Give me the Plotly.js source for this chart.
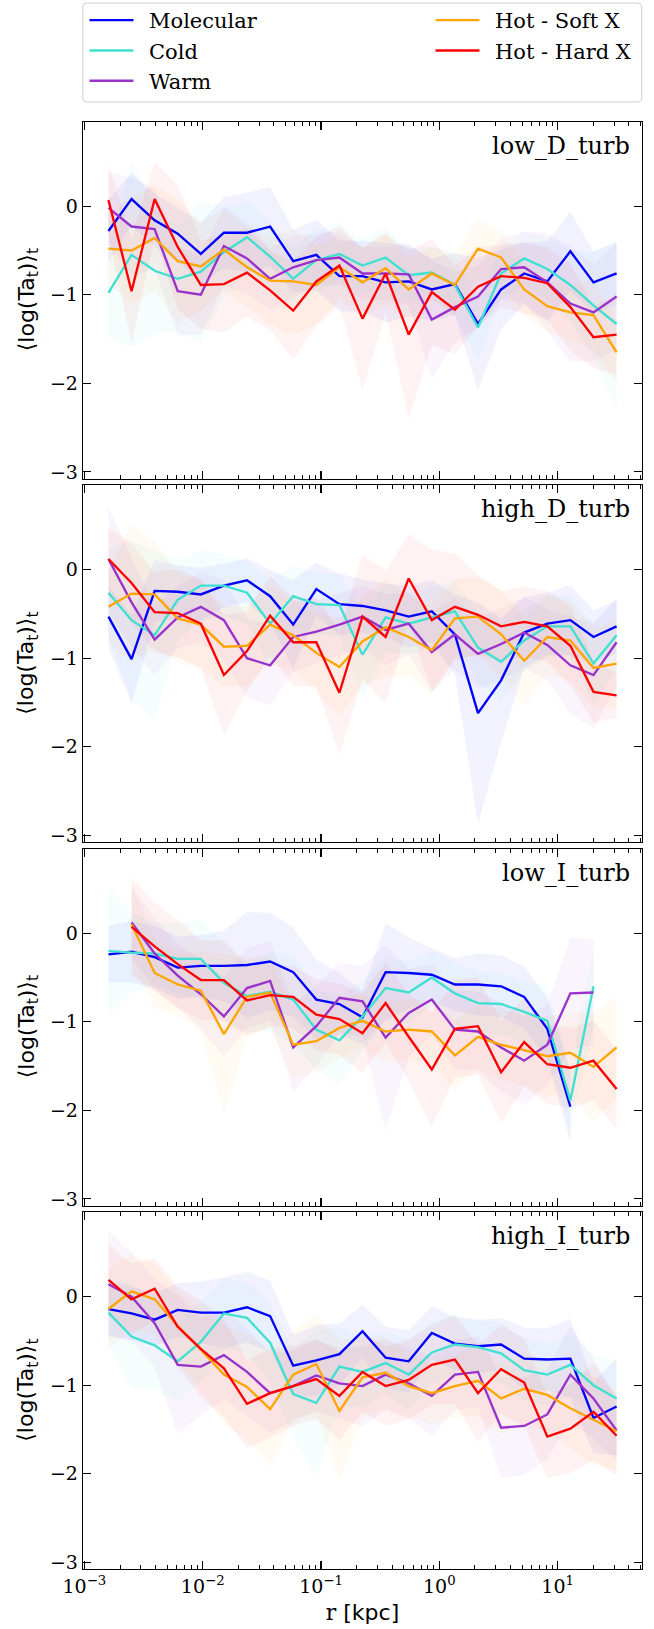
<!DOCTYPE html>
<html>
<head>
<meta charset="utf-8">
<script src="https://cdn.plot.ly/plotly-3.0.1.min.js"></script>
<style>
html,body{margin:0;padding:0;background:#fff;}
#chart{width:654px;height:1629px;}
</style>
</head>
<body>
<div id="chart"></div>
<script>
// radial bin centres [kpc]
const r_kpc = [0.001596, 0.002502, 0.003922, 0.006146, 0.009636, 0.01510, 0.02367, 0.03712, 0.05818, 0.09123, 0.1430, 0.2242, 0.3513, 0.5508, 0.8636, 1.3535, 2.122, 3.327, 5.215, 8.176, 12.81, 20.09, 31.49];

const panelNames = ['low_D_turb', 'high_D_turb', 'low_I_turb', 'high_I_turb'];
const phaseNames = ['Molecular', 'Cold', 'Warm', 'Hot - Soft X', 'Hot - Hard X'];
const yTickVals = [-3, -2, -1, 0];
const yTickText = ['\u22123', '\u22122', '\u22121', '0'];
const xTickVals = [0.001, 0.01, 0.1, 1, 10];
const xTickText = ['10<sup>\u22123</sup>', '10<sup>\u22122</sup>', '10<sup>\u22121</sup>', '10<sup>0</sup>', '10<sup>1</sup>'];
const yTitle = '\u27E8log(Ta<sub>t</sub>)\u27E9<sub>t</sub>';
const xTitle = '<span style="font-family:DejaVu Serif">r</span> [kpc]';

// ---- low_D_turb : means ----
const lowD_mol  = [-0.28, 0.08, -0.16, -0.31, -0.54, -0.30, -0.30, -0.23, -0.62, -0.55, -0.79, -0.79, -0.86, -0.85, -0.94, -0.88, -1.33, -0.94, -0.76, -0.85, -0.51, -0.86, -0.76];
const lowD_cold = [-0.98, -0.55, -0.73, -0.82, -0.74, -0.52, -0.35, -0.57, -0.82, -0.61, -0.54, -0.67, -0.58, -0.78, -0.75, -0.89, -1.37, -0.76, -0.59, -0.71, -0.89, -1.12, -1.33];
const lowD_warm = [-0.02, -0.23, -0.26, -0.96, -1.00, -0.45, -0.59, -0.82, -0.69, -0.61, -0.58, -0.76, -0.76, -0.77, -1.28, -1.14, -1.02, -0.71, -0.69, -0.86, -1.10, -1.20, -1.02];
const lowD_soft = [-0.48, -0.50, -0.36, -0.62, -0.68, -0.49, -0.69, -0.84, -0.85, -0.89, -0.69, -0.86, -0.70, -0.94, -0.76, -0.89, -0.48, -0.58, -0.94, -1.13, -1.20, -1.23, -1.65];
const lowD_hard = [0.07, -0.96, 0.08, -0.46, -0.89, -0.88, -0.75, -0.95, -1.18, -0.85, -0.67, -1.27, -0.76, -1.45, -0.97, -1.17, -0.91, -0.79, -0.81, -0.87, -1.14, -1.48, -1.45];
// ---- low_D_turb : spreads ----
const lowD_mol_sd  = [0.35, 0.30, 0.30, 0.30, 0.35, 0.40, 0.45, 0.45, 0.35, 0.40, 0.40, 0.40, 0.45, 0.40, 0.35, 0.35, 0.75, 0.45, 0.35, 0.45, 0.45, 0.35, 0.35];
const lowD_cold_sd = [0.50, 1.05, 0.70, 0.60, 0.80, 0.50, 0.40, 0.40, 0.35, 0.35, 0.35, 0.30, 0.35, 0.30, 0.30, 0.35, 0.35, 0.30, 0.30, 0.35, 0.40, 0.60, 0.95];
const lowD_warm_sd = [0.40, 0.55, 0.45, 0.50, 0.45, 0.45, 0.40, 0.35, 0.35, 0.30, 0.30, 0.30, 0.30, 0.35, 0.67, 0.40, 0.35, 0.35, 0.40, 0.55, 0.65, 0.55, 0.60];
const lowD_soft_sd = [0.40, 0.60, 0.60, 0.70, 0.50, 0.45, 0.45, 0.50, 0.60, 0.45, 0.35, 0.40, 0.40, 0.35, 0.30, 0.35, 0.35, 0.30, 0.30, 0.30, 0.30, 0.40, 0.35];
const lowD_hard_sd = [0.40, 0.60, 0.42, 0.70, 0.50, 0.55, 0.50, 0.45, 0.55, 0.50, 0.45, 0.80, 0.45, 0.95, 0.60, 0.50, 0.45, 0.35, 0.40, 0.40, 0.50, 0.35, 0.45];

// ---- high_D_turb : means ----
const highD_mol  = [-0.53, -1.01, -0.24, -0.25, -0.28, -0.18, -0.12, -0.30, -0.62, -0.22, -0.39, -0.41, -0.46, -0.53, -0.47, -0.73, -1.62, -1.25, -0.71, -0.61, -0.57, -0.76, -0.64];
const highD_cold = [-0.26, -0.57, -0.74, -0.34, -0.18, -0.18, -0.26, -0.61, -0.30, -0.39, -0.40, -0.96, -0.54, -0.61, -0.54, -0.47, -0.88, -1.04, -0.80, -0.64, -0.64, -1.06, -0.74];
const highD_warm = [0.12, -0.37, -0.79, -0.54, -0.42, -0.57, -1.00, -1.08, -0.76, -0.70, -0.62, -0.53, -0.68, -0.61, -0.93, -0.73, -0.95, -0.84, -0.71, -0.85, -1.08, -1.19, -0.82];
const highD_soft = [-0.42, -0.27, -0.28, -0.55, -0.62, -0.87, -0.86, -0.62, -0.74, -0.94, -1.10, -0.81, -0.65, -0.76, -0.91, -0.55, -0.53, -0.73, -1.03, -0.76, -0.80, -1.11, -1.06];
const highD_hard = [0.12, -0.15, -0.48, -0.49, -0.61, -1.19, -0.92, -0.52, -0.82, -0.82, -1.39, -0.53, -0.76, -0.10, -0.57, -0.42, -0.51, -0.64, -0.59, -0.64, -0.86, -1.38, -1.42];
// ---- high_D_turb : spreads ----
const highD_mol_sd  = [0.35, 0.50, 0.35, 0.30, 0.30, 0.25, 0.25, 0.30, 0.50, 0.30, 0.35, 0.30, 0.30, 0.35, 0.35, 0.45, 1.25, 0.70, 0.40, 0.35, 0.40, 0.30, 0.30];
const highD_cold_sd = [0.50, 0.90, 0.95, 0.45, 0.40, 0.35, 0.35, 0.50, 0.35, 0.35, 0.35, 0.50, 0.40, 0.35, 0.35, 0.35, 0.40, 0.45, 0.35, 0.35, 0.35, 0.45, 0.40];
const highD_warm_sd = [0.60, 0.50, 0.40, 0.35, 0.40, 0.45, 0.45, 0.45, 0.40, 0.35, 0.35, 0.35, 0.40, 0.35, 0.45, 0.40, 0.40, 0.40, 0.40, 0.40, 0.55, 0.60, 0.50];
const highD_soft_sd = [0.40, 0.78, 0.60, 0.50, 0.50, 0.45, 0.45, 0.45, 0.40, 0.45, 0.55, 0.50, 0.55, 0.45, 0.50, 0.45, 0.45, 0.50, 0.50, 0.45, 0.45, 0.45, 0.50];
const highD_hard_sd = [0.35, 0.45, 0.45, 0.50, 0.50, 0.68, 0.45, 0.45, 0.50, 0.50, 0.70, 0.70, 0.75, 0.50, 0.80, 0.60, 0.45, 0.40, 0.40, 0.40, 0.45, 0.35, 0.25];

// ---- low_I_turb : means ----
const lowI_mol  = [-0.24, -0.21, -0.27, -0.39, -0.37, -0.37, -0.36, -0.32, -0.44, -0.75, -0.80, -0.95, -0.44, -0.45, -0.47, -0.58, -0.58, -0.60, -0.72, -1.08, -1.96, null, null];
const lowI_cold = [-0.20, -0.22, -0.23, -0.29, -0.29, -0.56, -0.71, -0.66, -0.75, -1.09, -1.21, -0.94, -0.62, -0.67, -0.50, -0.68, -0.79, -0.80, -0.89, -0.99, -1.89, -0.60, null];
const lowI_warm = [null, 0.12, -0.23, -0.48, -0.69, -0.94, -0.62, -0.54, -1.29, -1.05, -0.73, -0.77, -1.18, -0.90, -0.75, -1.09, -1.11, -1.29, -1.44, -1.26, -0.68, -0.67, null];
const lowI_soft = [null, 0.10, -0.45, -0.58, -0.65, -1.14, -0.72, -0.67, -1.26, -1.22, -1.07, -0.99, -1.11, -1.09, -1.11, -1.38, -1.17, -1.26, -1.32, -1.39, -1.35, -1.51, -1.29];
const lowI_hard = [null, 0.07, -0.15, -0.35, -0.53, -0.53, -0.76, -0.70, -0.72, -0.92, -0.97, -1.13, -0.79, -1.17, -1.54, -1.08, -1.05, -1.57, -1.23, -1.48, -1.52, -1.44, -1.76];
// ---- low_I_turb : spreads ----
const lowI_mol_sd  = [0.32, 0.35, 0.35, 0.35, 0.35, 0.40, 0.60, 0.55, 0.50, 0.45, 0.35, 0.30, 0.55, 0.40, 0.30, 0.30, 0.35, 0.35, 0.35, 0.35, 0.40, null, null];
const lowI_cold_sd = [0.72, 0.45, 0.35, 0.40, 0.45, 0.45, 0.40, 0.45, 0.50, 0.45, 0.50, 0.40, 0.35, 0.35, 0.30, 0.35, 0.35, 0.35, 0.35, 0.40, 0.35, 0.45, null];
const lowI_warm_sd = [null, 0.40, 0.40, 0.35, 0.40, 0.45, 0.45, 0.45, 0.50, 0.45, 0.40, 0.40, 1.05, 0.50, 0.40, 0.45, 0.45, 0.50, 0.50, 0.45, 0.63, 0.60, null];
const lowI_soft_sd = [null, 0.45, 0.40, 0.35, 0.45, 0.90, 0.45, 0.40, 0.40, 0.35, 0.35, 0.30, 0.35, 0.35, 0.35, 0.40, 0.35, 0.40, 0.40, 0.45, 0.45, 0.62, 0.57];
const lowI_hard_sd = [null, 0.55, 0.50, 0.50, 0.45, 0.45, 0.40, 0.35, 0.35, 0.40, 0.40, 0.45, 0.45, 0.50, 0.64, 0.55, 0.55, 0.58, 0.50, 0.45, 0.45, 0.45, 0.45];

// ---- high_I_turb : means ----
const highI_mol  = [-0.14, -0.19, -0.26, -0.15, -0.18, -0.18, -0.12, -0.22, -0.78, -0.72, -0.65, -0.39, -0.69, -0.73, -0.41, -0.53, -0.56, -0.54, -0.70, -0.71, -0.70, -1.37, -1.24];
const highI_cold = [-0.18, -0.45, -0.55, -0.73, -0.51, -0.19, -0.24, -0.52, -1.10, -1.20, -0.79, -0.85, -0.75, -0.88, -0.63, -0.54, -0.57, -0.64, -0.83, -0.88, -0.77, -1.00, -1.15];
const highI_warm = [0.14, 0.00, -0.30, -0.77, -0.79, -0.66, -0.85, -1.09, -1.01, -0.89, -0.98, -1.01, -0.88, -0.98, -1.12, -0.88, -0.85, -1.48, -1.46, -1.33, -0.88, -1.15, -1.51];
const highI_soft = [-0.14, 0.06, -0.03, -0.33, -0.60, -0.88, -1.02, -1.27, -0.88, -0.76, -1.29, -0.91, -0.86, -1.01, -1.09, -1.01, -0.95, -1.15, -1.04, -1.11, -1.26, -1.39, -1.52];
const highI_hard = [0.19, -0.03, 0.09, -0.34, -0.59, -0.81, -1.21, -1.09, -1.01, -0.93, -1.12, -0.85, -1.01, -0.94, -0.77, -0.71, -1.09, -0.82, -0.97, -1.58, -1.49, -1.30, -1.57];
// ---- high_I_turb : spreads ----
const highI_mol_sd  = [0.30, 0.30, 0.30, 0.30, 0.35, 0.40, 0.40, 0.40, 0.35, 0.40, 0.35, 0.30, 0.35, 0.35, 0.30, 0.30, 0.30, 0.30, 0.35, 0.35, 0.45, 0.40, 0.55];
const highI_cold_sd = [0.35, 0.60, 0.50, 0.45, 0.45, 0.40, 0.40, 0.45, 0.50, 0.83, 0.45, 0.40, 0.35, 0.40, 0.35, 0.35, 0.30, 0.35, 0.35, 0.35, 0.35, 0.35, 0.40];
const highI_warm_sd = [0.60, 0.50, 0.50, 0.78, 0.55, 0.50, 0.50, 0.45, 0.40, 0.40, 0.40, 0.45, 0.40, 0.40, 0.45, 0.40, 0.40, 0.57, 0.55, 0.50, 0.55, 0.45, 0.35];
const highI_soft_sd = [0.45, 0.42, 0.40, 0.40, 0.45, 0.55, 0.60, 0.65, 0.50, 0.55, 0.80, 0.45, 0.40, 0.35, 0.35, 0.35, 0.40, 0.40, 0.40, 0.40, 0.45, 0.50, 0.45];
const highI_hard_sd = [0.40, 0.40, 0.35, 0.45, 0.55, 0.55, 0.50, 0.50, 0.45, 0.45, 0.50, 0.45, 0.45, 0.45, 0.45, 0.50, 0.55, 0.50, 0.50, 0.47, 0.50, 0.55, 0.45];

// ---------------- styling ----------------
const lineColors = ['#0000ff', '#40e0d0', '#9932cc', '#ffa500', '#ff0000'];
const bandColors = ['rgba(0,0,255,0.05)', 'rgba(64,224,208,0.05)', 'rgba(153,50,204,0.05)', 'rgba(255,165,0,0.05)', 'rgba(255,0,0,0.05)'];
const legendOf = ['legend', 'legend', 'legend', 'legend2', 'legend2'];

const panelMeans = [
  [lowD_mol, lowD_cold, lowD_warm, lowD_soft, lowD_hard],
  [highD_mol, highD_cold, highD_warm, highD_soft, highD_hard],
  [lowI_mol, lowI_cold, lowI_warm, lowI_soft, lowI_hard],
  [highI_mol, highI_cold, highI_warm, highI_soft, highI_hard]
];
const panelSpreads = [
  [lowD_mol_sd, lowD_cold_sd, lowD_warm_sd, lowD_soft_sd, lowD_hard_sd],
  [highD_mol_sd, highD_cold_sd, highD_warm_sd, highD_soft_sd, highD_hard_sd],
  [lowI_mol_sd, lowI_cold_sd, lowI_warm_sd, lowI_soft_sd, lowI_hard_sd],
  [highI_mol_sd, highI_cold_sd, highI_warm_sd, highI_soft_sd, highI_hard_sd]
];

// ---------------- geometry (px) ----------------
const W = 654, H = 1629;
const mL = 83, mR = 12, mT = 121.7, mB = 60;
const plotW = W - mL - mR;
const plotH = H - mT - mB;            // 1447.3
const panelH = 356.6, gapH = 6.97;
const pxX = v => (v - mL) / plotW;
const pxY = v => (H - mB - v) / plotH;

const traces = [];
const annotations = [];
const layout = {
  width: W, height: H,
  margin: {l: mL, r: mR, t: mT, b: mB, pad: 0, autoexpand: false},
  paper_bgcolor: '#ffffff', plot_bgcolor: '#ffffff',
  font: {family: 'DejaVu Serif', color: '#000000'},
  showlegend: true,
  hovermode: false
};

for (let p = 0; p < 4; p++) {
  const sx = p === 0 ? '' : String(p + 1);
  const xa = 'x' + sx, ya = 'y' + sx;
  // bands
  for (let s = 0; s < 5; s++) {
    const m = panelMeans[p][s], sd = panelSpreads[p][s];
    const idx = [];
    for (let i = 0; i < r_kpc.length; i++) if (m[i] !== null && sd[i] !== null) idx.push(i);
    const xs = idx.map(i => r_kpc[i]);
    const up = idx.map(i => m[i] + sd[i]);
    const lo = idx.map(i => m[i] - sd[i]);
    traces.push({
      x: xs.concat(xs.slice().reverse()),
      y: up.concat(lo.slice().reverse()),
      xaxis: xa, yaxis: ya,
      type: 'scatter', mode: 'lines', fill: 'toself',
      fillcolor: bandColors[s], line: {width: 0, color: 'rgba(0,0,0,0)'},
      hoverinfo: 'skip', showlegend: false
    });
  }
  // mean lines
  for (let s = 0; s < 5; s++) {
    traces.push({
      x: r_kpc, y: panelMeans[p][s],
      xaxis: xa, yaxis: ya,
      type: 'scatter', mode: 'lines',
      name: '\u2002' + phaseNames[s],
      line: {color: lineColors[s], width: 2.35},
      connectgaps: false,
      legend: legendOf[s],
      showlegend: p === 0
    });
  }
  const topPx = mT + p * (panelH + gapH);
  const bottomPx = topPx + panelH;
  const y0 = pxY(bottomPx);
  const y1 = pxY(topPx);
  const isBottom = p === 3;
  const xax = {
    type: 'log', range: [-3.012, 1.713], domain: [0, 1], anchor: ya,
    showline: true, linecolor: '#000', linewidth: 1.3, mirror: 'ticks',
    ticks: 'inside', ticklen: 8, tickwidth: 1.1, tickcolor: '#000',
    tickmode: 'array', tickvals: xTickVals, ticktext: xTickText,
    showticklabels: isBottom,
    tickfont: {family: 'DejaVu Serif', size: 19, color: '#000'},
    minor: {tickmode: 'linear', dtick: 'D1', ticks: 'inside', ticklen: 4, tickwidth: 1, tickcolor: '#000', showgrid: false},
    showgrid: false, zeroline: false
  };
  if (isBottom) xax.title = {text: xTitle, font: {family: 'DejaVu Sans', size: 22, color: '#000'}, standoff: 8};
  if (p > 0) xax.matches = 'x';
  layout['xaxis' + sx] = xax;
  layout['yaxis' + sx] = {
    range: [-3.075, 0.95], domain: [y0, y1], anchor: xa,
    showline: true, linecolor: '#000', linewidth: 1.3, mirror: 'ticks',
    ticks: 'inside', ticklen: 8, tickwidth: 1.1, tickcolor: '#000',
    tickmode: 'array', tickvals: yTickVals, ticktext: yTickText,
    tickfont: {family: 'DejaVu Serif', size: 19, color: '#000'},
    showgrid: false, zeroline: false
  };
  // y-axis title, placed in the left margin
  annotations.push({
    xref: 'paper', yref: ya + ' domain', x: pxX(28), y: 0.5,
    xanchor: 'center', yanchor: 'middle', textangle: -90,
    text: yTitle, showarrow: false,
    font: {family: 'DejaVu Sans', size: 22, color: '#000'}
  });
  // panel label
  annotations.push({
    xref: xa + ' domain', yref: ya + ' domain', x: 1, y: 1,
    xanchor: 'right', yanchor: 'top', xshift: -10, yshift: -8,
    text: panelNames[p], showarrow: false,
    font: {family: 'DejaVu Serif', size: 24, color: '#000'}
  });
}

// legend frame (rounded box) in paper coordinates
const bx0 = 82.7, bx1 = 641.7, by0 = 2.7, by1 = 101.7, rr = 4;
const boxPath = 'M' + pxX(bx0 + rr) + ',' + pxY(by0) +
  ' L' + pxX(bx1 - rr) + ',' + pxY(by0) +
  ' Q' + pxX(bx1) + ',' + pxY(by0) + ' ' + pxX(bx1) + ',' + pxY(by0 + rr) +
  ' L' + pxX(bx1) + ',' + pxY(by1 - rr) +
  ' Q' + pxX(bx1) + ',' + pxY(by1) + ' ' + pxX(bx1 - rr) + ',' + pxY(by1) +
  ' L' + pxX(bx0 + rr) + ',' + pxY(by1) +
  ' Q' + pxX(bx0) + ',' + pxY(by1) + ' ' + pxX(bx0) + ',' + pxY(by1 - rr) +
  ' L' + pxX(bx0) + ',' + pxY(by0 + rr) +
  ' Q' + pxX(bx0) + ',' + pxY(by0) + ' ' + pxX(bx0 + rr) + ',' + pxY(by0) + ' Z';
layout.shapes = [{
  type: 'path', xref: 'paper', yref: 'paper', path: boxPath,
  line: {color: '#d0d0d0', width: 1}, fillcolor: 'rgba(255,255,255,0.8)', layer: 'below'
}];

const legendCommon = {
  xref: 'container', yref: 'container', xanchor: 'left', yanchor: 'top',
  orientation: 'v', bgcolor: 'rgba(0,0,0,0)', borderwidth: 0,
  font: {family: 'DejaVu Serif', size: 21, color: '#000'},
  itemwidth: 44, tracegroupgap: 0, itemclick: false, itemdoubleclick: false
};
layout.legend = Object.assign({}, legendCommon, {x: 84.5 / W, y: 1});
layout.legend2 = Object.assign({}, legendCommon, {x: 430.5 / W, y: 1});
layout.annotations = annotations;

Plotly.newPlot('chart', traces, layout, {staticPlot: true, displayModeBar: false});
</script>
</body>
</html>
